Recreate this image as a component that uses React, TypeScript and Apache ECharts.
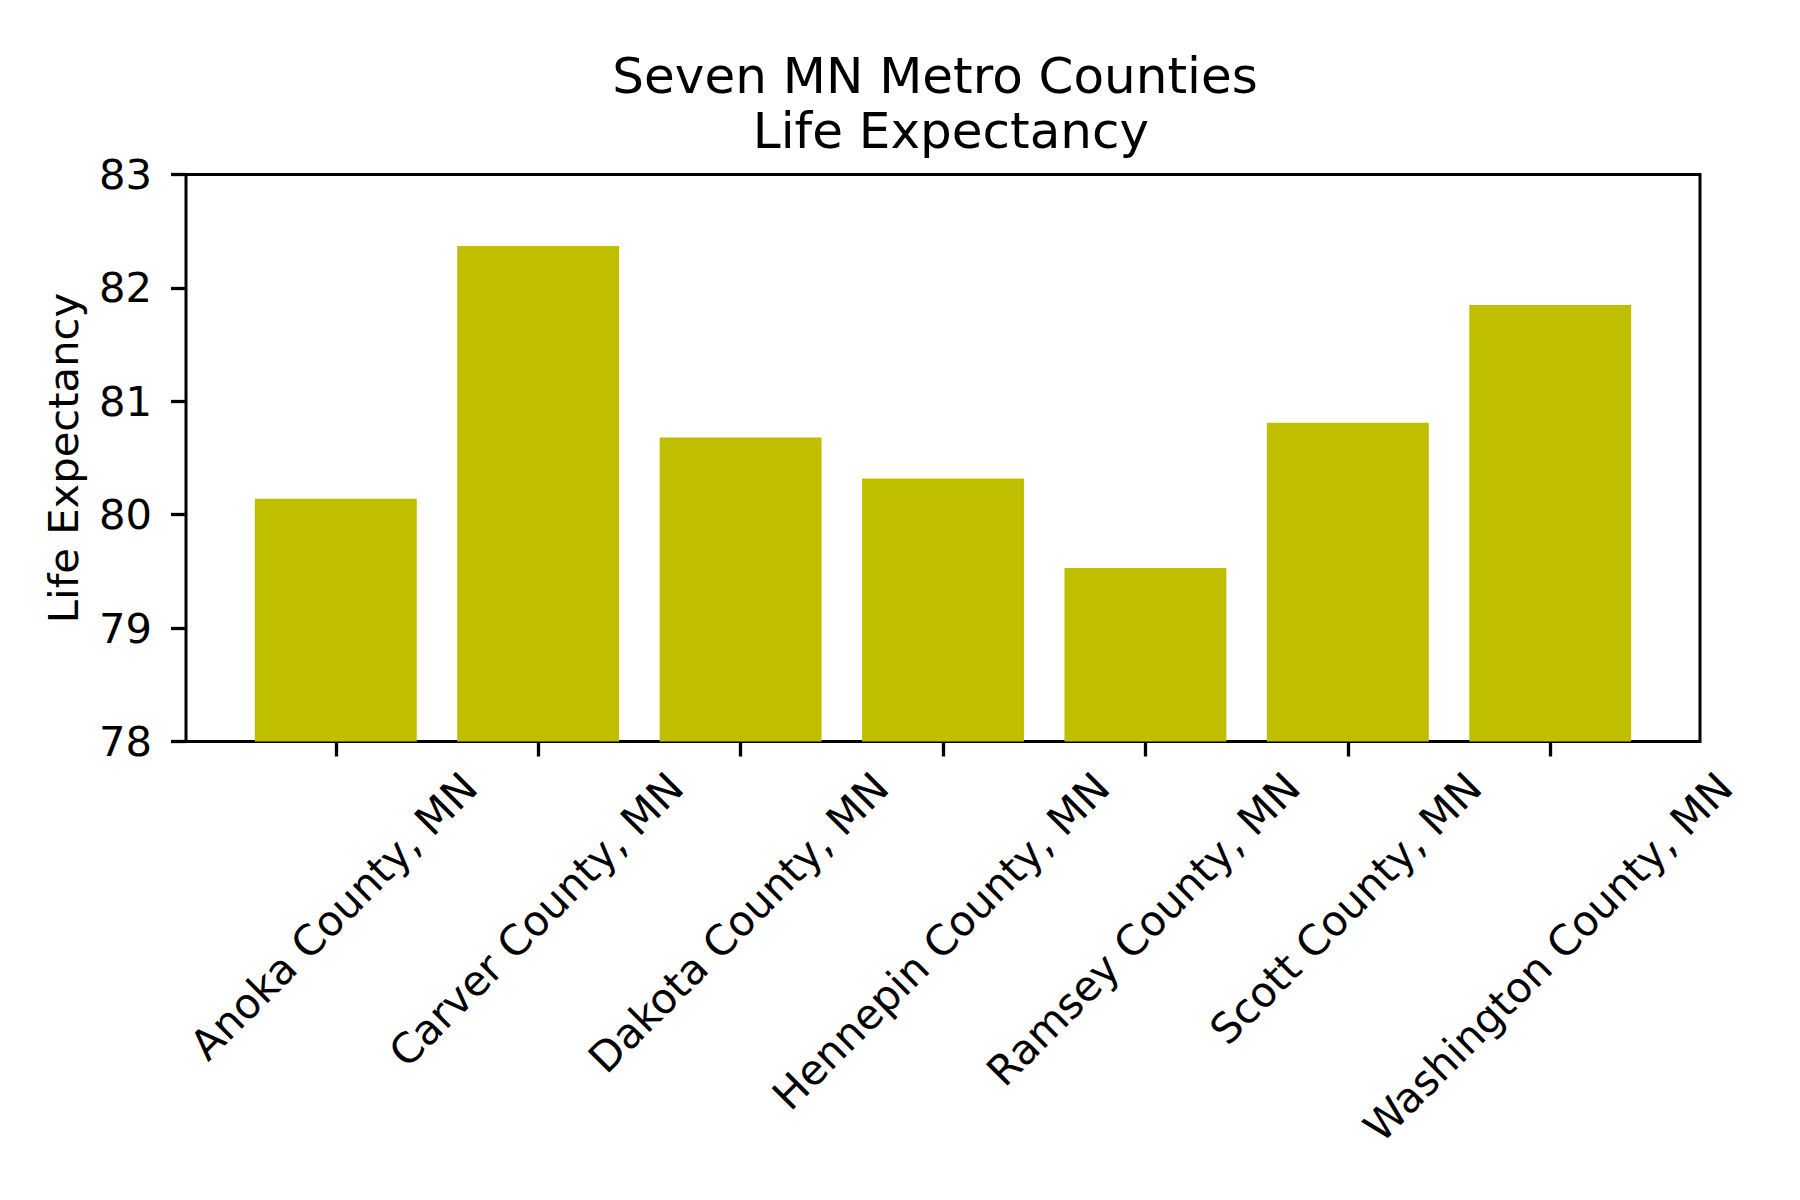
import React, { useEffect, useRef } from 'react';
import * as echarts from 'echarts';

const categories = [
  'Anoka County, MN',
  'Carver County, MN',
  'Dakota County, MN',
  'Hennepin County, MN',
  'Ramsey County, MN',
  'Scott County, MN',
  'Washington County, MN',
];
const lifeExpectancy = [80.14, 82.37, 80.68, 80.32, 79.53, 80.81, 81.85];
const yMin = 78;
const yMax = 83;
const yStep = 1;
const titleLines = ['Seven MN Metro Counties', 'Life Expectancy'];
const yAxisTitle = 'Life Expectancy';

export default function App() {
  const ref = useRef<HTMLDivElement>(null);

  useEffect(() => {
    const chart = echarts.init(ref.current!, null, { renderer: 'svg' });
    const FONT = 'DejaVu Sans';
    const tickFs = 41.7;
    const titleFs = 50;
    const frame = { left: 186, top: 174.5, width: 1514, height: 567 };
    const span = categories.length - 1 + 0.8 + 2 * 0.05 * (categories.length - 1 + 0.8);
    const unit = frame.width / span;
    const inset = (span - categories.length) / 2 * unit;
    const tickLen = 15;

    chart.setOption({
      animation: false,
      backgroundColor: '#ffffff',
      grid: [
        {
          left: frame.left,
          top: frame.top,
          width: frame.width,
          height: frame.height,
          show: true,
          borderColor: '#000',
          borderWidth: 3,
          backgroundColor: 'transparent',
        },
        {
          left: frame.left + inset,
          top: frame.top,
          width: frame.width - 2 * inset,
          height: frame.height,
        },
      ],
      xAxis: [
        { type: 'value', gridIndex: 0, min: 0, max: 1, show: false },
        {
          type: 'category',
          gridIndex: 1,
          data: categories,
          axisLine: { show: false },
          axisTick: {
            show: true,
            alignWithLabel: true,
            length: tickLen,
            lineStyle: { color: '#000', width: 3.3 },
          },
          axisLabel: { show: false },
          splitLine: { show: false },
        },
      ],
      yAxis: [
        {
          type: 'value',
          gridIndex: 0,
          min: yMin,
          max: yMax,
          interval: yStep,
          axisLine: { show: false },
          axisTick: { show: true, length: tickLen, lineStyle: { color: '#000', width: 3.3 } },
          axisLabel: {
            color: '#000',
            fontSize: tickFs,
            fontFamily: FONT,
            margin: 34,
          },
          splitLine: { show: false },
          name: yAxisTitle,
          nameLocation: 'middle',
          nameRotate: 90,
          nameGap: 102,
          nameTextStyle: { color: '#000', fontSize: tickFs, fontFamily: FONT },
        },
        {
          type: 'value',
          gridIndex: 1,
          min: yMin,
          max: yMax,
          interval: yStep,
          show: false,
          splitLine: { show: false },
        },
      ],
      series: [
        {
          type: 'bar',
          xAxisIndex: 1,
          yAxisIndex: 1,
          data: lifeExpectancy,
          barCategoryGap: '20%',
          itemStyle: { color: '#bfbf00' },
        },
      ],
    });

    const canvas = document.createElement('canvas');
    const ctx = canvas.getContext('2d')!;
    ctx.font = `${tickFs}px "${FONT}"`;
    const axisBottom = chart.convertToPixel({ yAxisIndex: 1 }, yMin) as number;
    const labelTop = axisBottom + tickLen + 6.6;
    const h = tickFs * 1.16;

    const labelGraphics = categories.map((c) => {
      const x = chart.convertToPixel({ xAxisIndex: 1 }, c) as number;
      const w = ctx.measureText(c).width;
      const cy = labelTop + (w + h) / (2 * Math.SQRT2);
      return {
        type: 'text',
        x: x - 2,
        y: cy,
        rotation: Math.PI / 4,
        silent: true,
        style: {
          text: c,
          x: 0,
          y: 0,
          align: 'center',
          verticalAlign: 'middle',
          fontSize: tickFs,
          fontFamily: FONT,
          fill: '#000',
        },
      };
    });

    // the title lines carry a trailing / leading space in the original,
    // which offsets each visible line by half a space width
    ctx.font = `${titleFs}px "${FONT}"`;
    const halfSpace = ctx.measureText(' ').width / 2;
    const titleX = frame.left + frame.width / 2;
    const titleGraphics = titleLines.map((t, i) => ({
      type: 'text',
      x: titleX + (i === 0 ? -halfSpace : halfSpace),
      y: 76 + i * 55,
      silent: true,
      style: {
        text: t,
        x: 0,
        y: 0,
        align: 'center',
        verticalAlign: 'middle',
        fontSize: titleFs,
        fontFamily: FONT,
        fill: '#000',
      },
    }));

    chart.setOption({ graphic: [...titleGraphics, ...labelGraphics] });

    return () => {
      chart.dispose();
    };
  }, []);

  return (
    <div
      ref={ref}
      style={{ position: 'fixed', left: 0, top: 0, width: 1800, height: 1200, background: '#fff' }}
    />
  );
}
